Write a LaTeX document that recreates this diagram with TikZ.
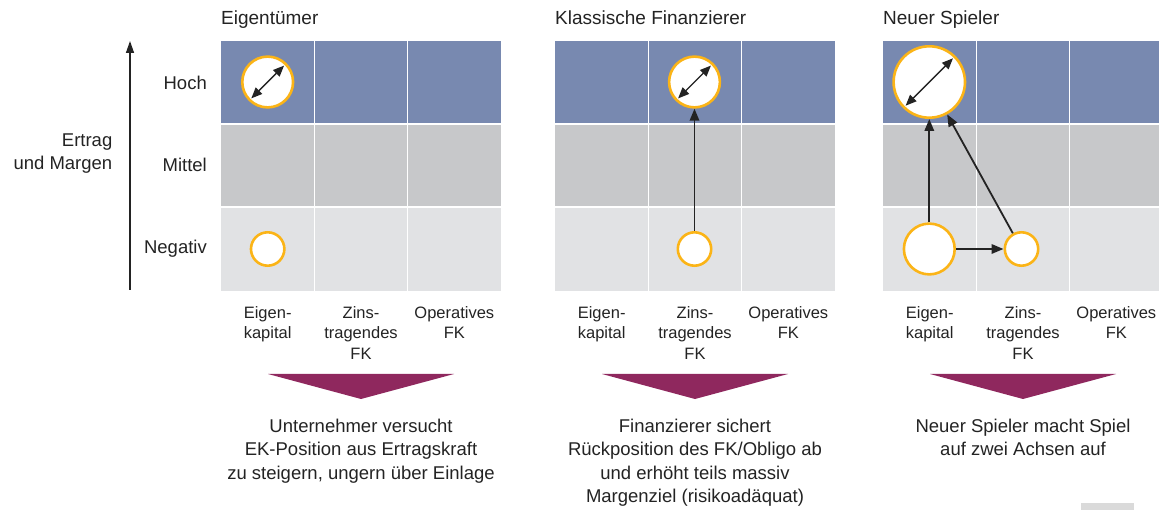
\documentclass[tikz,border=0pt]{standalone}
\usepackage{fontspec}
\setmainfont{Liberation Sans}
\usetikzlibrary{arrows.meta}

\definecolor{rowhigh}{HTML}{7889B0}
\definecolor{rowmid}{HTML}{C7C8CA}
\definecolor{rowlow}{HTML}{E1E2E4}
\definecolor{ringorange}{HTML}{FBB417}
\definecolor{wedge}{HTML}{8F285E}
\definecolor{ink}{HTML}{232323}
\definecolor{smudge}{HTML}{DADADA}

\tikzset{
  heading/.style={anchor=base west, inner sep=0pt, text=ink, font=\fontsize{19}{23}\selectfont},
  rowlabel/.style={anchor=base east, inner sep=0pt, text=ink, font=\fontsize{18.5}{23}\selectfont},
  axistitle/.style={anchor=north east, inner sep=0pt, align=right, text=ink, font=\fontsize{18.5}{23}\selectfont},
  collabel/.style={anchor=north, inner sep=0pt, align=center, text=ink, font=\fontsize{16.5}{20.5}\selectfont},
  summary/.style={anchor=north, inner sep=0pt, align=center, text=ink, font=\fontsize{18.5}{23.5}\selectfont},
  ring/.style={circle, draw=ringorange, line width=2.6pt, fill=white, inner sep=0pt},
  ringS/.style={ring, minimum size=33.4pt},
  ringM/.style={ring, minimum size=50.8pt},
  ringL/.style={ring, minimum size=71.4pt},
  span/.style={draw=ink, line width=1.4pt, {Triangle[length=11pt,width=9pt]}-{Triangle[length=11pt,width=9pt]}, shorten <=3.5pt, shorten >=3.5pt},
  move/.style={draw=ink, line width=1.8pt, -{Triangle[length=12pt,width=9.5pt]}},
  axisline/.style={draw=ink, line width=1.4pt, -{Triangle[length=12pt,width=8pt]}},
  gap/.style={draw=white, line width=1.6pt},
}

% one 3x3 grid with the wedge below it
\newcommand{\panelgrid}{%
  \fill[rowhigh] (0,41) rectangle (280,124);
  \fill[rowmid]  (0,124) rectangle (280,207);
  \fill[rowlow]  (0,207) rectangle (280,291);
  \draw[gap] (93.33,41) -- (93.33,291);
  \draw[gap] (186.67,41) -- (186.67,291);
  \draw[gap] (0,124) -- (280,124);
  \draw[gap] (0,207) -- (280,207);
  \fill[wedge] (47,374) -- (233,374) -- (140,399) -- cycle;
}

\begin{document}
\begin{tikzpicture}[x=1pt,y=-1pt]
\useasboundingbox (0,0) rectangle (1159,510);

% vertical axis and row captions
\coordinate (axbottom) at (130,290);
\coordinate (axtop) at (130,41);
\draw[axisline] (axbottom) -- (axtop);
\node[axistitle] (axname) at (112.5,133.8) {Ertrag\\und Margen};
\node[rowlabel] (hoch) at (207,90) {Hoch};
\node[rowlabel] (mittel) at (207,172) {Mittel};
\node[rowlabel] (negativ) at (207,254) {Negativ};

% panel 1
\begin{scope}[shift={(221,0)}]
  \panelgrid
  \node[heading] (h1) at (0,25) {Eigentümer};
  \node[collabel] (a1) at (46.67,306) {Eigen-\\kapital};
  \node[collabel] (b1) at (140,306) {Zins-\\tragendes\\FK};
  \node[collabel] (c1) at (233.33,306) {Operatives\\FK};
  \node[summary] (s1) at (140,418.7) {Unternehmer versucht\\EK-Position aus Ertragskraft\\zu steigern, ungern über Einlage};
  \node[ringM] (p1top) at (46.67,82) {};
  \node[ringS] (p1bot) at (46.67,249) {};
  \draw[span] (p1top.225) -- (p1top.45);
\end{scope}

% panel 2
\begin{scope}[shift={(555,0)}]
  \panelgrid
  \node[heading] (h2) at (0,25) {Klassische Finanzierer};
  \node[collabel] (a2) at (46.67,306) {Eigen-\\kapital};
  \node[collabel] (b2) at (140,306) {Zins-\\tragendes\\FK};
  \node[collabel] (c2) at (233.33,306) {Operatives\\FK};
  \node[summary] (s2) at (140,418.7) {Finanzierer sichert\\Rückposition des FK/Obligo ab\\und erhöht teils massiv\\Margenziel (risikoadäquat)};
  \node[ringM] (p2top) at (139.5,82) {};
  \node[ringS] (p2bot) at (139.5,249) {};
  \draw[span] (p2top.225) -- (p2top.45);
  \draw[move] (p2bot) -- (p2top);
\end{scope}

% panel 3
\begin{scope}[shift={(883,0)}]
  \panelgrid
  \node[heading] (h3) at (0,25) {Neuer Spieler};
  \node[collabel] (a3) at (46.67,306) {Eigen-\\kapital};
  \node[collabel] (b3) at (140,306) {Zins-\\tragendes\\FK};
  \node[collabel] (c3) at (233.33,306) {Operatives\\FK};
  \node[summary] (s3) at (140,418.7) {Neuer Spieler macht Spiel\\auf zwei Achsen auf};
  \node[ringL] (p3top) at (46.3,82) {};
  \node[ringM] (p3left) at (46.3,249) {};
  \node[ringS] (p3right) at (138.5,249) {};
  \draw[span] (p3top.225) -- (p3top.45);
  \draw[move] (p3left) -- (p3top);
  \draw[move] (p3left) -- (p3right);
  \draw[move] (p3right) -- (p3top);
\end{scope}

% faint mark in the lower right corner
\fill[smudge] (1081,503) rectangle (1134,510);
\end{tikzpicture}
\end{document}
